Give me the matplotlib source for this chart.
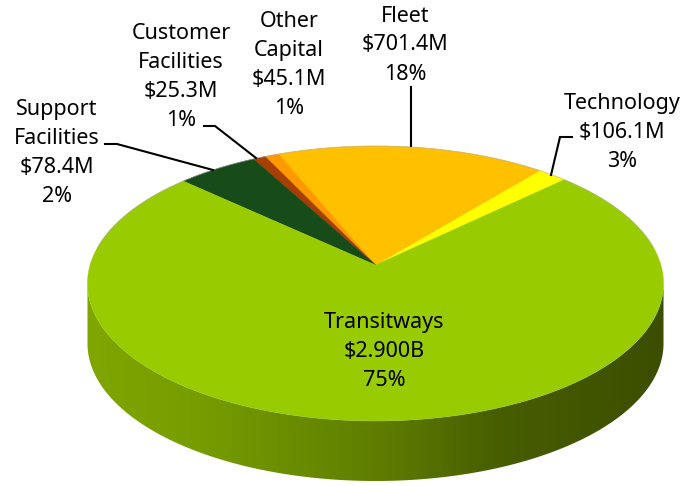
import numpy as np
import matplotlib
matplotlib.use("Agg")
import matplotlib.pyplot as plt
from matplotlib.colors import LinearSegmentedColormap
from matplotlib.patches import Polygon

plt.rcParams['font.family'] = ['Noto Sans', 'DejaVu Sans']

# Slice shares as drawn in the picture (percent of the circle), counter-clockwise from Technology
categories = ["Technology", "Fleet", "Other Capital", "Customer Facilities", "Support Facilities", "Transitways"]
shares = [1.9, 17.2, 0.9, 0.8, 5.2, 74.0]
colors = ["#FFFF00", "#FFC000", "#FF9900", "#A63F00", "#174B19", "#99CC00"]
amounts = ["$106.1M", "$701.4M", "$45.1M", "$25.3M", "$78.4M", "$2.900B"]
percents = ["3%", "18%", "1%", "1%", "2%", "75%"]
label_names = ["Technology", "Fleet", "Other\nCapital", "Customer\nFacilities", "Support\nFacilities", "Transitways"]
label_x = [622, 405, 289, 181, 57, 384]
label_y = [132, 45, 65, 77, 153, 351]

START_DEG = 43.7
CX, CY = 375.5, 265.0
A, B, K = 285.4, 135.0, 0.1345
DEPTH = 60.0


def project(theta_deg):
    t = np.radians(theta_deg)
    d = 1 + K * np.sin(t)
    return CX + A * np.cos(t) / d, CY - B * np.sin(t) / d


fig = plt.figure(figsize=(6.84, 4.86), dpi=100)
ax = fig.add_axes([0, 0, 1, 1])
ax.set_xlim(0, 684)
ax.set_ylim(486, 0)
ax.axis("off")

# side wall with horizontal gradient
wide = np.degrees(np.arcsin(-K))
th = np.linspace(180 - wide, 360 + wide, 400)
rx, ry = project(th)
wall = np.r_[np.c_[rx, ry], np.c_[rx[::-1], ry[::-1] + DEPTH]]
cmap = LinearSegmentedColormap.from_list("side", [
    (0.00, "#7FA600"), (0.20, "#769C00"), (0.50, "#5F7E00"),
    (0.72, "#475D00"), (1.00, "#3C4E00")])
grad = np.linspace(0, 1, 256)[None, :]
im = ax.imshow(grad, cmap=cmap, extent=(rx.min(), rx.max(), 486, 200), aspect="auto", zorder=1)
clip = Polygon(wall, closed=True, transform=ax.transData, fc="none", ec="none")
ax.add_patch(clip)
im.set_clip_path(clip)
ax.set_xlim(0, 684)
ax.set_ylim(486, 0)

# top face
edges = START_DEG + np.r_[0, np.cumsum(shares)] * 3.6
for i, c in enumerate(colors):
    tt = np.linspace(edges[i], edges[i + 1], 300)
    px, py = project(tt)
    ax.fill(np.r_[CX, px], np.r_[CY, py], color=c, lw=0.3, zorder=2)

# faint grey highlight on the back rim
bx, by = project(np.linspace(-wide, 180 + wide, 300))
ax.plot(bx, by, color="#A8A8A8", lw=0.7, alpha=0.5, zorder=3)

# leader lines
leaders = [
    ([105, 117, 213], [144, 144, 170]),
    ([204, 215, 256], [126, 126, 158]),
    ([411, 411], [87, 146]),
    ([572, 560, 551], [137, 137, 175]),
]
for lx, ly in leaders:
    ax.plot(lx, ly, color="black", lw=1.5, solid_joinstyle="miter", zorder=4)

# labels
for n, a, p, x, y in zip(label_names, amounts, percents, label_x, label_y):
    ax.text(x, y, f"{n}\n{a}\n{p}", ha="center", va="center", fontsize=15.5,
            linespacing=1.5, color="black", zorder=5)

fig.savefig("out.png", dpi=100)
